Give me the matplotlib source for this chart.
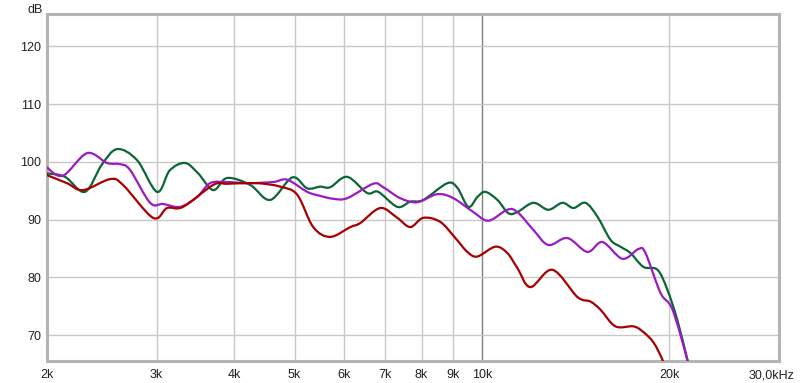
import matplotlib
matplotlib.use("Agg")
import matplotlib.pyplot as plt
import matplotlib.ticker as mticker
import matplotlib.transforms as mtransforms
from matplotlib.path import Path
from matplotlib.patches import PathPatch
import numpy as np

# frequency (Hz) / level (dB)
green_f = [2000, 2138, 2302, 2450, 2593, 2791, 3006, 3150, 3334, 3500, 3700, 3896, 4243, 4570,
           4958, 5240, 5500, 5706, 6076, 6544, 6816, 7314, 7674, 8052, 8802, 9134, 9514, 9836,
           10132, 10594, 11034, 11408, 12104, 12794, 13474, 14038, 14676, 15342, 16098, 16706,
           17336, 18190, 19160, 19880, 20620, 21400, 21800]
green_db = [98.0, 97.4, 94.8, 99.5, 102.2, 100.3, 94.8, 98.5, 99.8, 98.0, 95.1, 97.2, 96.0, 93.4,
            97.3, 95.4, 95.7, 95.6, 97.4, 94.6, 94.8, 92.2, 93.1, 93.4, 96.3, 95.5, 92.2, 93.9,
            94.8, 93.4, 91.1, 91.3, 92.9, 91.7, 92.9, 92.0, 92.9, 90.5, 86.5, 85.3,
            84.2, 81.8, 81.3, 77.8, 72.6, 65.7, 62.0]

purple_f = [2000, 2122, 2320, 2498, 2620, 2720, 2930, 3074, 3274, 3486, 3658, 3896, 4196, 4620,
            4866, 5240, 5500, 5770, 6076, 6690, 6942, 7396, 7874, 8480, 9000, 9692, 10246,
            10990, 11408, 12104, 12794, 13726, 14780, 15628, 16828, 17858, 18326, 19374,
            20254, 21400, 21800]
purple_db = [99.0, 97.6, 101.5, 99.8, 99.6, 98.6, 92.9, 92.7, 92.2, 93.9, 96.3, 96.5, 96.3, 96.5,
             96.9, 94.8, 94.1, 93.6, 93.7, 96.2, 95.6, 93.7, 93.0, 94.4, 93.7, 91.3, 89.8,
             91.7, 91.3, 88.2, 85.6, 86.8, 84.4, 86.1, 83.2, 84.9, 84.2, 77.3,
             74.4, 65.7, 62.0]

red_f = [2000, 2154, 2286, 2526, 2650, 2962, 3120, 3310, 3700, 3896, 4354, 4742, 5050, 5358,
         5706, 6146, 6378, 6868, 7314, 7674, 8052, 8574, 9068, 9478, 9836, 10514, 10990,
         11408, 11968, 12988, 14242, 14948, 15510, 16400, 17528, 18190, 18882, 19518, 19900]
red_db = [97.7, 96.3, 95.1, 97.0, 96.0, 90.3, 92.0, 92.2, 96.0, 96.2, 96.3, 95.7, 94.3, 88.7,
          87.0, 88.7, 89.4, 92.0, 90.3, 88.7, 90.3, 89.6, 86.8, 84.4, 83.6, 85.3, 84.2,
          81.6, 78.3, 81.3, 76.6, 75.8, 74.4, 71.5, 71.5, 70.5, 68.7, 65.7, 63.0]

x_ticks = [2000, 3000, 4000, 5000, 6000, 7000, 8000, 9000, 10000, 20000, 30000]
x_labels = ["2k", "3k", "4k", "5k", "6k", "7k", "8k", "9k", "10k", "20k", "30,0kHz"]
y_ticks = [70, 80, 90, 100, 110, 120]


def smooth_path(freqs, levels):
    """Catmull-Rom curve through the points, built in log-frequency space."""
    lx = np.log10(freqs)
    y = np.asarray(levels, dtype=float)
    n = len(lx)
    verts = [(freqs[0], y[0])]
    codes = [Path.MOVETO]
    for i in range(n - 1):
        i0, i3 = max(i - 1, 0), min(i + 2, n - 1)
        c1 = (lx[i] + (lx[i + 1] - lx[i0]) / 6, y[i] + (y[i + 1] - y[i0]) / 6)
        c2 = (lx[i + 1] - (lx[i3] - lx[i]) / 6, y[i + 1] - (y[i3] - y[i]) / 6)
        verts += [(10 ** c1[0], c1[1]), (10 ** c2[0], c2[1]), (freqs[i + 1], y[i + 1])]
        codes += [Path.CURVE4] * 3
    return Path(verts, codes)


plt.rcParams['font.family'] = ['Liberation Sans', 'DejaVu Sans']

fig = plt.figure(figsize=(8, 3.83), dpi=100)
ax = fig.add_axes([0.0587, 0.0574, 0.9146, 0.906])
ax.set_xscale('log')
ax.set_xlim(2000, 30000)
ax.set_ylim(65.5, 125.6)

for f in x_ticks[1:-1]:
    ax.axvline(f, color='#7f7f7f' if f == 10000 else '#c8c8c8', lw=1, zorder=1)
for v in y_ticks:
    ax.axhline(v, color='#c8c8c8', lw=1, zorder=1)

series = [(green_f, green_db, '#0b6636', 3),
          (purple_f, purple_db, '#9a1ac4', 4),
          (red_f, red_db, '#a80000', 5)]
for f, db, col, z in series:
    ax.add_patch(PathPatch(smooth_path(f, db), fill=False, edgecolor=col,
                           lw=1.6, zorder=z, capstyle='round', joinstyle='round'))

ax.xaxis.set_major_locator(mticker.FixedLocator(x_ticks))
ax.xaxis.set_major_formatter(mticker.FixedFormatter(x_labels))
ax.xaxis.set_minor_locator(mticker.NullLocator())
ax.set_yticks(y_ticks)
ax.tick_params(length=0, labelsize=9, colors='#222222')
ax.tick_params(axis='x', pad=6)
ax.tick_params(axis='y', pad=4)

# pull the last label a bit left, as in the reference
last = ax.get_xticklabels()[-1]
last.set_transform(last.get_transform() + mtransforms.ScaledTranslation(-7 / 100, 0, fig.dpi_scale_trans))

for s in ax.spines.values():
    s.set_color('#b4b4b4')
    s.set_linewidth(2.2)

fig.text(0.034, 0.99, "dB", fontsize=9, color='#222222', ha='left', va='top')

fig.savefig("out.png", dpi=100)
